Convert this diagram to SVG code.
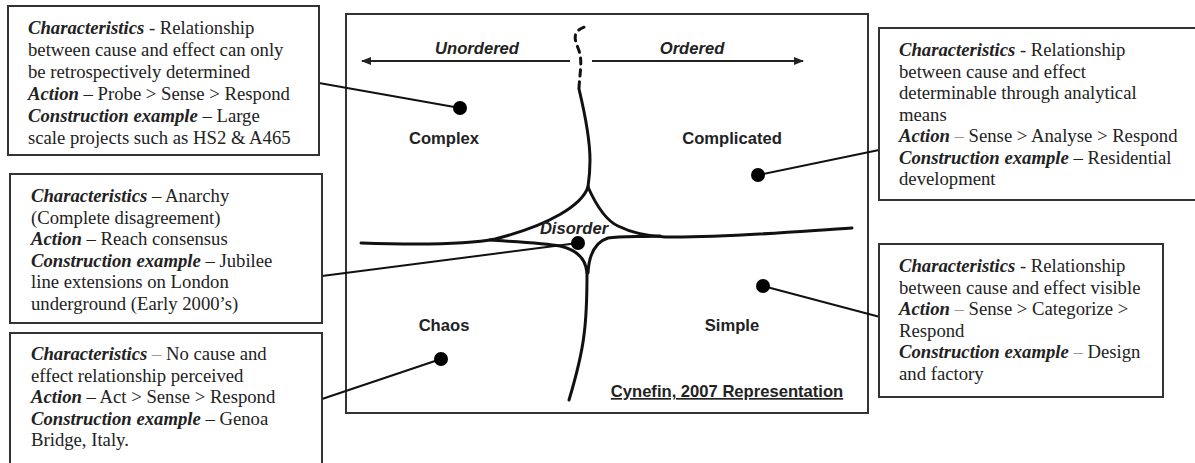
<svg xmlns="http://www.w3.org/2000/svg" width="1195" height="463" viewBox="0 0 1195 463">
<style>
.box{fill:#fff;stroke:#333;stroke-width:2}
.body{font-family:"Liberation Serif","Times New Roman",serif;font-size:18.7px;fill:#222}
.bi{font-weight:bold;font-style:italic}
.lt{fill:#999}
.lbl{font-family:"Liberation Sans",Arial,sans-serif;font-size:16.6px;font-weight:bold;fill:#222;text-anchor:middle}
.it{font-style:italic}
.curve{fill:none;stroke:#111;stroke-width:3;stroke-linecap:round}
.conn{stroke:#111;stroke-width:2;fill:none}
.dot{fill:#000}
.arr{stroke:#222;stroke-width:2}
</style>
<defs>
<marker id="ah" viewBox="0 0 10 8" refX="9" refY="4" markerWidth="10" markerHeight="8" markerUnits="userSpaceOnUse" orient="auto-start-reverse">
<path d="M0,0 L10,4 L0,8 z" fill="#222"/>
</marker>
</defs>
<rect width="1195" height="463" fill="#fff"/>

<g id="frame">
<rect x="346" y="14" width="522" height="399" fill="none" stroke="#333" stroke-width="2"/>
<line class="arr" x1="362" y1="61" x2="570" y2="61" marker-start="url(#ah)"/>
<line class="arr" x1="592" y1="61" x2="803" y2="61" marker-end="url(#ah)"/>
<text class="lbl it" x="477" y="54">Unordered</text>
<text class="lbl it" x="692" y="54">Ordered</text>
<path class="curve" d="M579 88 C580 70 583 60 578 48 C574 38 572 30 588 26" stroke-dasharray="6 6" stroke-width="2.5"/>
<path class="curve" d="M579 89 C584 110 590 140 590 160 C590 172 589 180 588 187"/>
<path class="curve" d="M588 187 C582 205 550 225 495 239 C470 244 420 245 361 243"/>
<path class="curve" d="M588 187 C596 205 605 220 618 226 C630 232 645 236 665 237 C720 238 790 232 852 228"/>
<path class="curve" d="M490 240 C520 242 545 243 560 246 C578 250 586 260 587 273"/>
<path class="curve" d="M660 236 C640 237 620 236 608 238 C595 242 589 255 588 273"/>
<path class="curve" d="M587 273 C587 300 586 320 584 335 C581 360 575 380 569 400"/>
<text class="lbl" x="444" y="144">Complex</text>
<text class="lbl" x="732" y="144">Complicated</text>
<text class="lbl it" x="574" y="234">Disorder</text>
<text class="lbl" x="444" y="331">Chaos</text>
<text class="lbl" x="732" y="331">Simple</text>
<text class="lbl" x="727" y="397" text-decoration="underline">Cynefin, 2007 Representation</text>
</g>

<g id="connectors">
<line class="conn" x1="319" y1="83" x2="460" y2="108"/>
<circle class="dot" cx="460" cy="108" r="7"/>
<line class="conn" x1="879" y1="150" x2="758" y2="175"/>
<circle class="dot" cx="758" cy="175" r="7"/>
<line class="conn" x1="322" y1="276" x2="578" y2="243"/>
<circle class="dot" cx="578" cy="243" r="7"/>
<line class="conn" x1="880" y1="317" x2="763" y2="286"/>
<circle class="dot" cx="763" cy="286" r="7"/>
<line class="conn" x1="322" y1="399" x2="441" y2="359"/>
<circle class="dot" cx="441" cy="359" r="7"/>
</g>

<g id="complex-box">
<rect class="box" x="8" y="6" width="311" height="149"/>
<text class="body" x="28" y="34"><tspan class="bi">Characteristics</tspan> - Relationship</text>
<text class="body" x="28" y="56">between cause and effect can only</text>
<text class="body" x="28" y="78">be retrospectively determined</text>
<text class="body" x="28" y="100"><tspan class="bi">Action</tspan> – Probe &gt; Sense &gt; Respond</text>
<text class="body" x="28" y="122"><tspan class="bi">Construction example</tspan> – Large</text>
<text class="body" x="28" y="144">scale projects such as HS2 &amp; A465</text>
</g>

<g id="disorder-box">
<rect class="box" x="10" y="174" width="312" height="149"/>
<text class="body" x="31" y="202"><tspan class="bi">Characteristics</tspan> – Anarchy</text>
<text class="body" x="31" y="223.5">(Complete disagreement)</text>
<text class="body" x="31" y="245"><tspan class="bi">Action</tspan> – Reach consensus</text>
<text class="body" x="31" y="266.5"><tspan class="bi">Construction example</tspan> – Jubilee</text>
<text class="body" x="31" y="288">line extensions on London</text>
<text class="body" x="31" y="309.5">underground (Early 2000’s)</text>
</g>

<g id="chaos-box">
<rect class="box" x="10" y="333" width="312" height="140"/>
<text class="body" x="31" y="360"><tspan class="bi">Characteristics</tspan> <tspan class="lt">–</tspan> No cause and</text>
<text class="body" x="31" y="381.5">effect relationship perceived</text>
<text class="body" x="31" y="403"><tspan class="bi">Action</tspan> – Act &gt; Sense &gt; Respond</text>
<text class="body" x="31" y="424.5"><tspan class="bi">Construction example</tspan> – Genoa</text>
<text class="body" x="31" y="446">Bridge, Italy.</text>
</g>

<g id="complicated-box">
<rect class="box" x="879" y="28" width="320" height="172"/>
<text class="body" x="899" y="56"><tspan class="bi">Characteristics</tspan> - Relationship</text>
<text class="body" x="899" y="77.5">between cause and effect</text>
<text class="body" x="899" y="99">determinable through analytical</text>
<text class="body" x="899" y="120.5">means</text>
<text class="body" x="899" y="142"><tspan class="bi">Action</tspan> <tspan class="lt">–</tspan> Sense &gt; Analyse &gt; Respond</text>
<text class="body" x="899" y="163.5"><tspan class="bi">Construction example</tspan> – Residential</text>
<text class="body" x="899" y="185">development</text>
</g>

<g id="simple-box">
<rect class="box" x="879" y="244" width="284" height="153"/>
<text class="body" x="899" y="272"><tspan class="bi">Characteristics</tspan> - Relationship</text>
<text class="body" x="899" y="293.5">between cause and effect visible</text>
<text class="body" x="899" y="315"><tspan class="bi">Action</tspan> <tspan class="lt">–</tspan> Sense &gt; Categorize &gt;</text>
<text class="body" x="899" y="336.5">Respond</text>
<text class="body" x="899" y="358"><tspan class="bi">Construction example</tspan> <tspan class="lt">–</tspan> Design</text>
<text class="body" x="899" y="379.5">and factory</text>
</g>
</svg>
